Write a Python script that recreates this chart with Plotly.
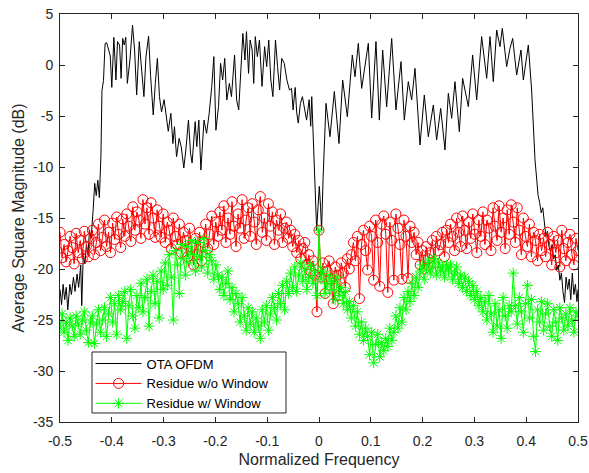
import plotly.graph_objects as go
import numpy as np

# ---------------- data ----------------
black_x = [
    -0.500, -0.497, -0.494, -0.491, -0.488, -0.485, -0.481, -0.478, -0.474, -0.471,
    -0.467, -0.464, -0.460, -0.458, -0.455, -0.452, -0.449, -0.446, -0.443, -0.440,
    -0.436, -0.433, -0.430, -0.427, -0.424, -0.421, -0.419, -0.416, -0.413,
    -0.410, -0.406, -0.403, -0.400, -0.396, -0.392, -0.389, -0.385, -0.382, -0.379,
    -0.376, -0.373, -0.370, -0.365, -0.360, -0.356, -0.352, -0.347, -0.343, -0.338,
    -0.334, -0.329, -0.325, -0.320, -0.316, -0.312, -0.308, -0.304, -0.299, -0.295,
    -0.291, -0.286, -0.282, -0.279, -0.275, -0.270, -0.266, -0.261, -0.257, -0.252,
    -0.248, -0.245, -0.239, -0.236, -0.232, -0.228, -0.222, -0.217, -0.212, -0.207,
    -0.203, -0.199, -0.194, -0.190, -0.186, -0.182, -0.178, -0.173, -0.169, -0.163,
    -0.159, -0.155, -0.151, -0.147, -0.143, -0.140, -0.136, -0.133, -0.129, -0.126,
    -0.123, -0.119, -0.115, -0.110, -0.105, -0.101, -0.097, -0.093, -0.089, -0.084,
    -0.080, -0.076, -0.072, -0.067, -0.062, -0.057, -0.053,
    -0.050, -0.046, -0.043, -0.040, -0.036, -0.032, -0.027, -0.024, -0.019, -0.016,
    -0.014, -0.011, -0.008, -0.0045, -0.002, 0.0006, 0.003, 0.005, 0.008, 0.011,
    0.0135, 0.0212, 0.0296, 0.0386, 0.0457, 0.0547, 0.0643, 0.0695, 0.0759, 0.0824,
    0.0888, 0.0952, 0.1017, 0.1100, 0.1165, 0.1229, 0.1306, 0.1403, 0.1486, 0.1583,
    0.1647, 0.1724, 0.1789, 0.1853, 0.1950, 0.2033, 0.2110, 0.2207, 0.2271, 0.2349,
    0.2432, 0.2497, 0.2561, 0.2625, 0.2709, 0.2773, 0.2883, 0.2966, 0.3044, 0.3140,
    0.3237, 0.3301, 0.3365, 0.3430, 0.3494, 0.3539, 0.3623, 0.3687, 0.3739, 0.3816,
    0.3899, 0.3945, 0.4041, 0.4105, 0.4170, 0.4202,
    0.423, 0.426, 0.429, 0.432, 0.435, 0.438, 0.441, 0.444, 0.447, 0.450,
    0.453, 0.456, 0.459, 0.462, 0.465, 0.468, 0.471, 0.474, 0.477, 0.480,
    0.483, 0.486, 0.489, 0.492, 0.495, 0.498, 0.500,
]
black_y = [
    -22.0, -23.5, -21.5, -23.0, -21.8, -24.0, -21.5, -22.5, -20.8, -22.2,
    -20.5, -21.8, -19.6, -23.6, -18.5, -19.5, -17.6, -18.6, -16.2, -17.0,
    -14.2, -11.6, -12.8, -11.3, -13.0, -9.0, -2.5, -1.5, 2.1,
    2.19, 1.47, 0.88, -2.19, 2.71, -1.47, 2.29, 1.96, -1.31, 2.61,
    1.96, 2.71, -1.8, 0.49, 3.92, 1.47, -2.94, 2.29, -0.16, -3.1,
    0.82, 2.84, -1.14, -4.9, -1.8, 0.65, -3.1, -4.6, -3.4, -4.9,
    -6.5, -4.74, -7.7, -6.05, -9.0, -7.2, -8.0, -10.1, -8.3, -5.39,
    -8.66, -9.6, -5.55, -8.0, -5.4, -10.3, -5.4, -6.7, -4.74, -2.1,
    0.82, -6.4, -4.08, 0.16, -1.47, 0.65, -3.43, -1.8, -3.1, 0.98,
    -3.43, -4.4, -0.82, 3.1, 0.49, 3.27, -0.82, 2.45, 1.47, -1.8,
    2.78, 0.82, 2.45, -2.1, 1.8, -0.16, 2.45, -1.47, -3.1, 2.45,
    -0.16, -2.45, 0.65, 0.16, -1.47, -2.45, -2.3,
    -4.4, -2.2, -4.7, -5.7, -3.8, -3.1, -4.4, -5.4, -3.4, -6.0,
    -3.1, -7.7, -11.9, -16.2, -14.0, -11.9, -13.9, -16.2, -11.0, -6.0,
    -3.76, -7.03, -2.6, -7.7, -1.47, -5.07, 0.98, -1.15, 2.12, -2.29,
    -0.16, 2.12, -5.2, 2.3, -5.4, 1.47, -4.1, 2.6, -4.4, 0.33,
    -5.4, -1.63, -3.43, -0.33, -7.84, -2.94, -7.03, -3.92, -7.35, -4.25,
    -8.33, -2.78, -5.23, -1.63, -6.54, -1.31, -4.08, 0.98, -3.43, 2.78,
    -1.31, 2.78, -1.63, 3.43, 1.8, 3.59, -0.16, 1.63, 2.61, -0.98,
    1.47, -1.47, 1.96, -2.45, -9.3, -11.6,
    -12.8, -13.5, -14.5, -14.0, -15.7, -16.8, -16.3, -17.8, -18.3, -17.6,
    -19.0, -18.6, -20.1, -19.6, -21.1, -20.4, -22.2, -23.3, -20.8, -22.0,
    -21.0, -23.0, -20.4, -22.5, -21.5, -23.2, -22.0,
]

# residue series: 257 frequency bins from -0.5 to 0.5
freq = np.linspace(-0.5, 0.5, 257)

red_y = [
    -16.4, -18.9, -17.6, -19.3, -18.2, -16.8, -17.9, -19.5, -16.5, -18.4, -17.2, -19.0, -16.3, -17.8, -18.8, -17.0,
    -16.2, -18.6, -17.4, -15.6, -18.2, -16.9, -15.2, -17.8, -16.4, -18.4, -15.5, -17.1, -14.9, -16.6, -17.9, -15.1,
    -16.8, -14.6, -15.8, -17.3, -13.9, -16.2, -14.4, -15.2, -17.0, -13.2, -15.6, -14.0, -16.6, -13.5, -15.0, -16.9,
    -14.2, -15.8, -16.9, -14.6, -17.4, -15.4, -16.2, -18.0, -15.0, -16.8, -17.6, -15.6, -18.4, -16.4, -17.2, -18.8,
    -16.0, -17.8, -19.6, -17.0, -18.6, -16.4, -19.2, -17.4, -15.6, -18.0, -16.6, -14.8, -17.6, -15.4, -16.8, -14.4,
    -16.2, -13.8, -17.4, -15.0, -16.6, -13.4, -15.8, -17.8, -14.6, -16.0, -13.2, -17.0, -15.2, -14.0, -16.8, -13.6,
    -15.4, -17.6, -14.2, -12.9, -16.4, -15.0, -17.2, -13.6, -15.8, -14.4, -17.6, -15.2, -16.2, -14.6, -17.4, -16.0,
    -15.4, -17.0, -16.2, -17.8, -16.6, -18.4, -17.2, -19.0, -18.0, -17.4, -19.6, -18.6, -20.2, -19.2, -20.6, -24.2,
    -16.2, -20.8, -19.4, -22.4, -20.2, -19.2, -21.0, -23.4, -19.8, -20.6, -22.6, -19.4, -20.4, -21.8, -19.0, -20.0,
    -18.6, -17.4, -19.2, -16.8, -22.9, -17.6, -16.2, -18.2, -20.1, -15.8, -16.8, -21.1, -15.2, -17.4, -21.7, -15.6,
    -14.8, -16.6, -22.3, -15.4, -17.2, -21.1, -14.6, -16.0, -17.6, -21.0, -15.2, -16.8, -20.9, -15.8, -17.4, -16.4,
    -18.6, -17.4, -19.6, -18.2, -20.0, -17.8, -19.0, -18.4, -17.2, -19.4, -16.8, -18.2, -17.6, -16.4, -18.8, -16.2,
    -17.4, -15.6, -16.8, -18.2, -15.0, -16.4, -17.8, -14.8, -16.2, -18.0, -15.4, -17.0, -14.6, -16.6, -18.4, -15.2,
    -16.8, -14.4, -17.6, -15.2, -16.0, -18.2, -14.0, -15.8, -17.2, -13.8, -16.4, -15.0, -18.0, -14.2, -16.6, -13.7,
    -15.4, -17.4, -14.0, -16.2, -18.6, -15.0, -16.8, -17.8, -15.6, -18.8, -16.4, -17.2, -19.2, -16.6, -18.2, -17.0,
    -18.8, -16.4, -17.6, -19.6, -16.8, -18.4, -17.2, -19.8, -16.2, -18.0, -19.2, -17.4, -16.6, -18.6, -19.6, -17.0,
    -18.2,
]

green_y = [
    -25.8, -24.4, -26.2, -25.2, -27.0, -24.8, -25.6, -26.6, -24.6, -25.4, -26.4, -25.0, -24.2, -26.0, -27.2, -25.2,
    -24.6, -27.3, -25.4, -24.0, -26.2, -25.0, -23.8, -26.6, -24.4, -22.8, -25.2, -23.4, -26.4, -22.6, -24.0, -23.2,
    -22.2, -26.8, -23.6, -22.0, -24.6, -25.8, -22.6, -23.8, -21.4, -24.2, -22.8, -21.0, -25.6, -22.2, -20.6, -23.4,
    -21.2, -24.8, -20.2, -22.0, -19.4, -21.6, -18.6, -20.8, -25.0, -18.2, -19.6, -22.4, -17.6, -19.0, -20.6, -17.8,
    -19.4, -17.2, -18.6, -20.2, -17.4, -18.8, -19.8, -17.0, -18.2, -20.4, -18.6, -19.2, -21.0, -19.6, -20.6, -22.0,
    -20.8, -22.6, -21.4, -20.2, -23.0, -21.8, -24.2, -22.4, -23.4, -25.2, -22.8, -24.6, -26.0, -23.8, -25.4, -24.2,
    -26.2, -24.8, -25.6, -26.8, -24.0, -25.2, -23.6, -26.0, -24.4, -22.8, -23.8, -25.0, -22.4, -23.4, -21.6, -24.0,
    -21.2, -22.4, -20.4, -21.8, -19.8, -22.2, -20.6, -19.4, -21.2, -20.0, -22.0, -20.8, -19.6, -21.4, -20.2, -22.6,
    -16.2, -21.0, -20.2, -22.4, -21.4, -20.6, -22.0, -21.2, -23.0, -20.8, -22.6, -21.8, -23.4, -22.2, -24.0, -23.2,
    -24.8, -23.6, -25.6, -24.2, -26.4, -25.2, -27.0, -25.8, -26.6, -28.4, -26.2, -29.2, -27.4, -26.4, -28.6, -27.2,
    -28.0, -26.8, -27.6, -25.8, -27.0, -26.2, -24.6, -25.8, -23.8, -25.2, -22.8, -24.0, -22.2, -23.2, -21.4, -22.6,
    -20.8, -21.8, -20.2, -19.6, -21.0, -20.0, -19.2, -20.4, -19.8, -19.0, -20.6, -19.4, -20.2, -19.8, -20.8, -19.6,
    -20.2, -19.6, -21.0, -20.4, -19.8, -21.4, -20.6, -21.8, -20.8, -22.2, -21.2, -22.6, -21.6, -23.0, -22.2, -23.6,
    -22.8, -24.2, -23.2, -25.0, -22.6, -24.4, -26.2, -23.4, -25.6, -24.0, -26.8, -22.8, -24.6, -25.8, -23.6, -24.2,
    -20.4, -23.6, -25.4, -22.8, -24.2, -26.2, -23.4, -21.6, -24.8, -23.0, -26.6, -28.1, -24.0, -25.2, -23.2, -26.0,
    -24.4, -23.4, -25.6, -26.6, -24.0, -25.2, -27.0, -23.8, -24.8, -26.0, -24.4, -25.6, -23.8, -25.0, -26.2, -24.2,
    -24.6,
]

x_tick_vals = [-0.5, -0.4, -0.3, -0.2, -0.1, 0, 0.1, 0.2, 0.3, 0.4, 0.5]
x_tick_text = ["-0.5", "-0.4", "-0.3", "-0.2", "-0.1", "0", "0.1", "0.2", "0.3", "0.4", "0.5"]
y_tick_vals = [-35, -30, -25, -20, -15, -10, -5, 0, 5]
y_tick_text = ["-35", "-30", "-25", "-20", "-15", "-10", "-5", "0", "5"]

# ---------------- figure ----------------
fig = go.Figure()
fig.add_trace(go.Scatter(
    x=black_x, y=black_y, mode="lines", name="OTA OFDM",
    line=dict(color="#000000", width=1),
))
fig.add_trace(go.Scatter(
    x=freq, y=red_y, mode="lines+markers", name="Residue w/o Window",
    line=dict(color="#ff0000", width=1),
    marker=dict(symbol="circle-open", size=10, color="#ff0000",
                line=dict(color="#ff0000", width=1)),
))
fig.add_trace(go.Scatter(
    x=freq, y=green_y, mode="lines+markers", name="Residue w/ Window",
    line=dict(color="#00ff00", width=1),
    marker=dict(symbol="asterisk-open", size=9, color="#00ff00",
                line=dict(color="#00ff00", width=1)),
))

axis_col = "#262626"
fig.update_layout(
    width=589, height=473,
    margin=dict(l=60, r=11, t=14, b=51, autoexpand=False),
    paper_bgcolor="white", plot_bgcolor="white",
    font=dict(family="Liberation Sans, Arial, sans-serif", size=14, color=axis_col),
    showlegend=True,
    hovermode=False,
    legend=dict(
        x=0.059, y=0.180, xanchor="left", yanchor="top",
        bgcolor="rgba(0,0,0,0)", borderwidth=0,
        font=dict(size=13, color="#000000"),
        tracegroupgap=0, itemwidth=46,
    ),
    shapes=[dict(
        type="rect", xref="paper", yref="paper",
        x0=0.0618, x1=0.4363, y0=0.0221, y1=0.1716,
        line=dict(color=axis_col, width=1), fillcolor="white", layer="above",
    )],
)
fig.update_xaxes(
    range=[-0.5, 0.5], tickvals=x_tick_vals, ticktext=x_tick_text,
    showgrid=False, zeroline=False, automargin=False, ticklabeloverflow="allow",
    showline=True, linecolor=axis_col, linewidth=1, mirror="ticks",
    ticks="inside", ticklen=5, tickcolor=axis_col, ticklabelstandoff=6,
    title=dict(text="Normalized Frequency", font=dict(size=16), standoff=6),
)
fig.update_yaxes(
    range=[-35, 5], tickvals=y_tick_vals, ticktext=y_tick_text,
    showgrid=False, zeroline=False, automargin=False, ticklabeloverflow="allow",
    showline=True, linecolor=axis_col, linewidth=1, mirror="ticks",
    ticks="inside", ticklen=5, tickcolor=axis_col, ticklabelstandoff=3,
    title=dict(text="Average Square Magnitude (dB)", font=dict(size=16), standoff=4),
)

# remove the default 8 px page margin so the figure sits at the window origin
fig.write_html(
    "out.html",
    config={"displayModeBar": False},
    post_script="document.body.style.margin='0px';document.body.style.overflow='hidden';",
)
